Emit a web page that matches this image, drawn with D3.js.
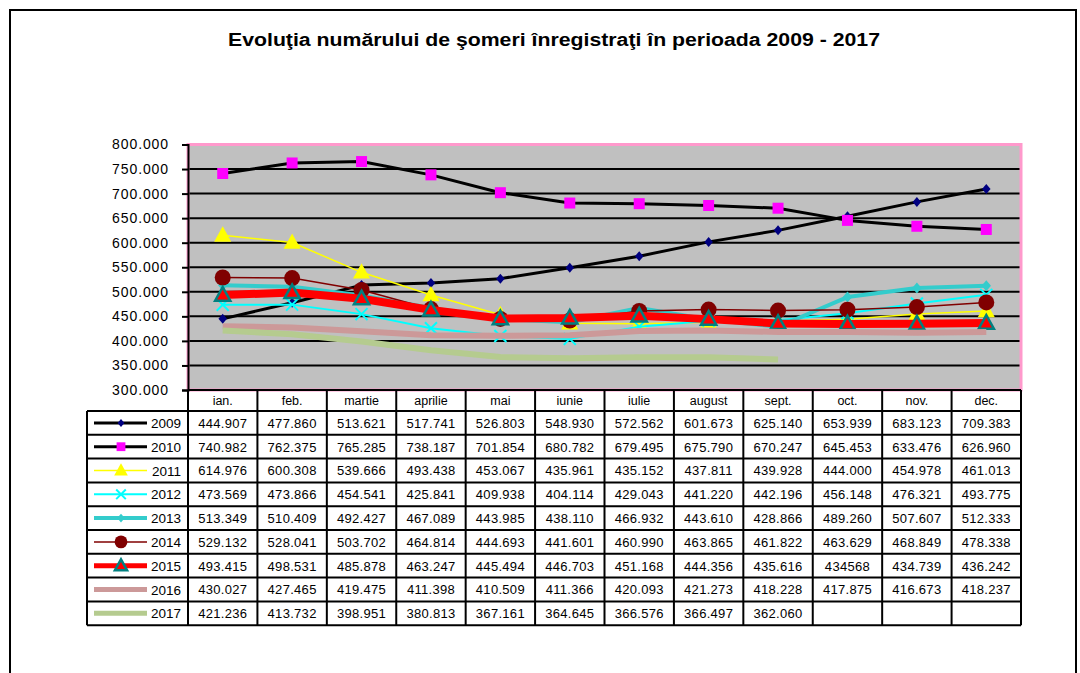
<!DOCTYPE html>
<html>
<head>
<meta charset="utf-8">
<script src="https://cdn.jsdelivr.net/npm/d3@7"></script>
<style>
  body { margin: 0; background: #fff; }
  text { font-family: "Liberation Sans", Arial, sans-serif; }
</style>
</head>
<body>
<div id="chart"></div>
<script>
// date: numărul de şomeri înregistraţi, pe luni
const months = ["ian.", "feb.", "martie", "aprilie", "mai", "iunie", "iulie", "august", "sept.", "oct.", "nov.", "dec."];
const years = ["2009", "2010", "2011", "2012", "2013", "2014", "2015", "2016", "2017"];

const v2009 = [444907, 477860, 513621, 517741, 526803, 548930, 572562, 601673, 625140, 653939, 683123, 709383];
const v2010 = [740982, 762375, 765285, 738187, 701854, 680782, 679495, 675790, 670247, 645453, 633476, 626960];
const v2011 = [614976, 600308, 539666, 493438, 453067, 435961, 435152, 437811, 439928, 444000, 454978, 461013];
const v2012 = [473569, 473866, 454541, 425841, 409938, 404114, 429043, 441220, 442196, 456148, 476321, 493775];
const v2013 = [513349, 510409, 492427, 467089, 443985, 438110, 466932, 443610, 428866, 489260, 507607, 512333];
const v2014 = [529132, 528041, 503702, 464814, 444693, 441601, 460990, 463865, 461822, 463629, 468849, 478338];
const v2015 = [493415, 498531, 485878, 463247, 445494, 446703, 451168, 444356, 435616, 434568, 434739, 436242];
const v2016 = [430027, 427465, 419475, 411398, 410509, 411366, 420093, 421273, 418228, 417875, 416673, 418237];
const v2017 = [421236, 413732, 398951, 380813, 367161, 364645, 366576, 366497, 362060];

const yTicks = [300000, 350000, 400000, 450000, 500000, 550000, 600000, 650000, 700000, 750000, 800000];

// in tabelul original celula oct. 2015 apare fara punct
const cellTextOverride = { "2015-9": "434568" };

const seriesValues = [v2009, v2010, v2011, v2012, v2013, v2014, v2015, v2016, v2017];

// stiluri (linie, marker)
const styles = {
  "2009": { stroke: "#000000", width: 3,   marker: "diamond",  fill: "#000080", size: 5 },
  "2010": { stroke: "#000000", width: 3,   marker: "square",   fill: "#ff00ff", size: 5.5 },
  "2011": { stroke: "#ffff00", width: 1.5, marker: "triangle", fill: "#ffff00", size: 9 },
  "2012": { stroke: "#00ffff", width: 2,   marker: "x",        fill: "#00ffff", size: 6 },
  "2013": { stroke: "#33cccc", width: 4,   marker: "diamond",  fill: "#33cccc", size: 5.5 },
  "2014": { stroke: "#800000", width: 1.5, marker: "circle",   fill: "#800000", size: 8 },
  "2015": { stroke: "#ff0000", width: 8,   marker: "triangleO", fill: "#ff0000", size: 8 },
  "2016": { stroke: "#cc9999", width: 6,   marker: null },
  "2017": { stroke: "#b5cb8f", width: 6,   marker: null }
};

const W = 1080, H = 673;
const plot = { left: 188, right: 1021, top: 144.5, bottom: 390 };
const headerH = 21;
const rowH = 23.8;
const legendLeft = 87;

const fmt = d3.formatLocale({ decimal: ",", thousands: ".", grouping: [3], currency: ["", ""] }).format(",d");

const svg = d3.select("#chart").append("svg")
  .attr("width", W)
  .attr("height", H);

// chenarul exterior
svg.append("rect")
  .attr("x", 10).attr("y", 10)
  .attr("width", 1066).attr("height", 700)
  .attr("fill", "none")
  .attr("stroke", "#000")
  .attr("stroke-width", 2);

svg.append("text")
  .attr("x", 554).attr("y", 46)
  .attr("text-anchor", "middle")
  .attr("font-size", 17.5)
  .attr("font-weight", "bold")
  .attr("textLength", 652)
  .attr("lengthAdjust", "spacingAndGlyphs")
  .text("Evoluţia numărului de şomeri înregistraţi în perioada 2009 - 2017");

const x = d3.scaleBand().domain(months).range([plot.left, plot.right]);
const cx = m => x(m) + x.bandwidth() / 2;
const y = d3.scaleLinear().domain([300000, 800000]).range([plot.bottom, plot.top]);

// zona graficului
svg.append("rect")
  .attr("x", plot.left).attr("y", plot.top)
  .attr("width", plot.right - plot.left)
  .attr("height", plot.bottom - plot.top)
  .attr("fill", "#c0c0c0");

svg.append("g")
  .selectAll("line")
  .data(yTicks.slice(1, -1))
  .join("line")
  .attr("x1", plot.left).attr("x2", plot.right)
  .attr("y1", d => y(d)).attr("y2", d => y(d))
  .attr("stroke", "#000")
  .attr("stroke-width", 2);

svg.append("rect")
  .attr("x", plot.left).attr("y", plot.top)
  .attr("width", plot.right - plot.left)
  .attr("height", plot.bottom - plot.top)
  .attr("fill", "none")
  .attr("stroke", "#ff99cc")
  .attr("stroke-width", 3);

const yAxis = svg.append("g")
  .attr("transform", `translate(${plot.left},0)`)
  .call(d3.axisLeft(y).tickValues(yTicks).tickFormat(fmt).tickSize(6).tickPadding(13));
yAxis.select(".domain").attr("stroke", "#000").attr("stroke-width", 2);
yAxis.selectAll(".tick line").attr("stroke", "#000").attr("stroke-width", 2);
yAxis.selectAll(".tick text")
  .attr("font-size", 14)
  .attr("letter-spacing", "0.9px")
  .attr("fill", "#000")
  .style("font-family", "'Liberation Sans', Arial, sans-serif");

function markerPath(type, s) {
  switch (type) {
    case "diamond": return `M0,${-s}L${s * 0.85},0L0,${s}L${-s * 0.85},0Z`;
    case "square": return `M${-s},${-s}H${s}V${s}H${-s}Z`;
    case "triangle":
    case "triangleO": return `M0,${-s}L${s * 0.95},${s * 0.7}L${-s * 0.95},${s * 0.7}Z`;
    case "x": return `M${-s},${-s}L${s},${s}M${s},${-s}L${-s},${s}`;
    case "circle": return d3.arc()({ innerRadius: 0, outerRadius: s, startAngle: 0, endAngle: 2 * Math.PI });
  }
  return "";
}

function drawMarker(g, st, px, py, k) {
  if (!st.marker) return;
  const p = g.append("path")
    .attr("transform", `translate(${px},${py})`)
    .attr("d", markerPath(st.marker, st.size * k));
  if (st.marker === "x") {
    p.attr("fill", "none").attr("stroke", st.fill).attr("stroke-width", 2);
  } else if (st.marker === "triangleO") {
    p.attr("fill", st.fill).attr("stroke", "#008080").attr("stroke-width", 2.5);
  } else {
    p.attr("fill", st.fill);
  }
}

const line = d3.line()
  .x((d, i) => cx(months[i]))
  .y(d => y(d));

const seriesG = svg.append("g");
years.forEach((yr, si) => {
  const st = styles[yr];
  const vals = seriesValues[si];
  const g = seriesG.append("g");
  g.append("path")
    .datum(vals)
    .attr("d", line)
    .attr("fill", "none")
    .attr("stroke", st.stroke)
    .attr("stroke-width", st.width)
    .attr("stroke-linejoin", "round");
  vals.forEach((v, i) => drawMarker(g, st, cx(months[i]), y(v), 1));
});

// tabelul de date
const tableTop = plot.bottom;
const rowTop = i => tableTop + headerH + i * rowH;
const tableBottom = rowTop(years.length);
const tg = svg.append("g");

tg.selectAll("text.month")
  .data(months)
  .join("text")
  .attr("class", "month")
  .attr("x", d => cx(d))
  .attr("y", tableTop + headerH / 2 + 4.5)
  .attr("text-anchor", "middle")
  .attr("font-size", 12.5)
  .text(d => d);

years.forEach((yr, si) => {
  const st = styles[yr];
  const ty = rowTop(si);
  const mid = ty + rowH / 2;
  seriesValues[si].forEach((v, i) => {
    const key = yr + "-" + i;
    tg.append("text")
      .attr("x", cx(months[i]))
      .attr("y", mid + 4.8)
      .attr("text-anchor", "middle")
      .attr("font-size", 13)
      .attr("letter-spacing", "0.3px")
      .text(cellTextOverride[key] || fmt(v));
  });
  // legenda
  const lg = tg.append("g");
  lg.append("line")
    .attr("x1", 94).attr("x2", 147)
    .attr("y1", mid).attr("y2", mid)
    .attr("stroke", st.stroke)
    .attr("stroke-width", Math.min(st.width, 5));
  drawMarker(lg, st, 121, mid, 0.8);
  lg.append("text")
    .attr("x", 181)
    .attr("y", mid + 5)
    .attr("text-anchor", "end")
    .attr("font-size", 13.5)
    .text(yr);
});

// liniile tabelului
const hLines = [tableTop].concat(d3.range(years.length + 1).map(rowTop));
tg.selectAll("line.h")
  .data(hLines)
  .join("line")
  .attr("class", "h")
  .attr("x1", (d, i) => i === 0 ? plot.left : legendLeft)
  .attr("x2", plot.right)
  .attr("y1", d => d).attr("y2", d => d)
  .attr("stroke", "#000")
  .attr("stroke-width", 2);

const vLines = months.map(m => x(m)).concat([plot.right]);
tg.selectAll("line.v")
  .data(vLines)
  .join("line")
  .attr("class", "v")
  .attr("x1", d => d).attr("x2", d => d)
  .attr("y1", tableTop).attr("y2", tableBottom)
  .attr("stroke", "#000")
  .attr("stroke-width", 2);

tg.append("line")
  .attr("x1", legendLeft).attr("x2", legendLeft)
  .attr("y1", rowTop(0)).attr("y2", tableBottom)
  .attr("stroke", "#000")
  .attr("stroke-width", 2);
</script>
</body>
</html>
